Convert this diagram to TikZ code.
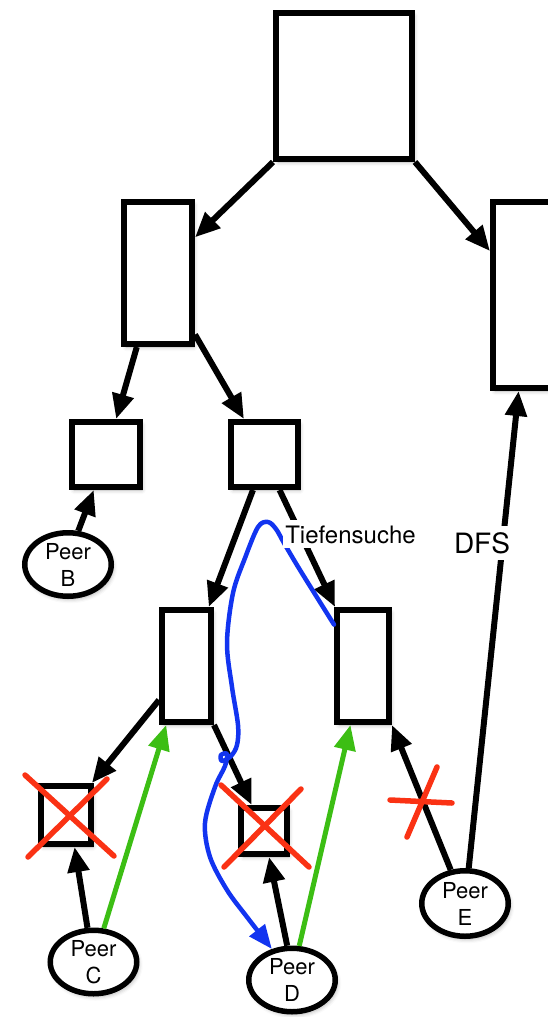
\documentclass[tikz,border=0pt]{standalone}
\usepackage{fontspec}
\setmainfont{TeX Gyre Heros}
\usetikzlibrary{arrows.meta,shapes.geometric,shadows.blur}

\definecolor{searchblue}{RGB}{18,52,240}
\definecolor{okgreen}{RGB}{60,190,20}
\definecolor{failred}{RGB}{250,50,20}

\tikzset{
  softshadow/.style={blur shadow={shadow xshift=2pt, shadow yshift=-3pt,
      shadow blur radius=4pt, shadow opacity=30}},
  box/.style={draw=black, line width=6pt, fill=white, inner sep=0pt, softshadow},
  peer/.style={ellipse, draw=black, line width=5.5pt, fill=white, inner sep=0pt,
      minimum width=86.5pt, minimum height=63.5pt, align=center,
      font=\fontsize{22}{27}\selectfont, softshadow},
  tip/.style={-{Triangle[length=25pt,width=21pt]}},
  link/.style={tip, draw=black, line width=6pt},
  ok/.style={tip, draw=okgreen, line width=5pt},
  searchpath/.style={-{Triangle[length=24pt,width=19pt]}, draw=searchblue,
      line width=4.5pt, line cap=round, line join=round},
  cross/.style={draw=failred, line width=5.5pt, line cap=round},
  tag/.style={fill=white, inner xsep=2pt, text=black},
}

\begin{document}
\begin{tikzpicture}[x=1pt, y=-1pt]
  \useasboundingbox (0,0) rectangle (548,1017);
  \clip (0,0) rectangle (548,1017);

  % tree of boxes
  \node[box, minimum width=136pt, minimum height=146pt] (root) at (344,86) {};
  \node[box, minimum width=68pt,  minimum height=142pt] (L1)   at (158,273) {};
  \node[box, minimum width=68pt,  minimum height=186pt] (R1)   at (527,295) {};
  \node[box, minimum width=68pt,  minimum height=65pt]  (L2a)  at (106,454.5) {};
  \node[box, minimum width=67pt,  minimum height=65pt]  (L2b)  at (264.5,454.5) {};
  \node[box, minimum width=49pt,  minimum height=112pt] (L3a)  at (186.5,666) {};
  \node[box, minimum width=52pt,  minimum height=112pt] (L3b)  at (363,666) {};
  \node[box, minimum width=50pt,  minimum height=58pt]  (L4a)  at (66,815) {};
  \node[box, minimum width=46pt,  minimum height=46pt]  (L4b)  at (264,831) {};

  % peers
  \node[peer] (B) at (68,564.5)  {Peer\\B};
  \node[peer] (C) at (93.5,962)  {Peer\\C};
  \node[peer] (D) at (292,980)   {Peer\\D};
  \node[peer, minimum height=65.5pt] (E) at (465,903.5) {Peer\\E};

  % tree edges
  \draw[link] (root.south west) -- (L1);
  \draw[link] (root.south east) -- (R1);
  \draw[link] (L1.-106) -- (L2a);
  \draw[link] (L1.-59) -- (L2b);
  \draw[link] (L2b.-108) -- (L3a);
  \draw[link] (L2b.-67) -- (L3b);
  \draw[link] (L3a.-129) -- (L4a);
  \draw[link] (L3a.south east) -- (L4b);

  % peers pointing into the tree
  \draw[link] (B.73) -- (L2a.-109);
  \draw[link] (C.100) -- (L4a.-75);
  \draw[ok]   (C.73) -- (L3a.-109);
  \draw[link] (D.98) -- (L4b.-79);
  \draw[ok]   (D.78) -- (L3b.-102);
  \draw[link] (E.113) -- (L3b.south east);
  \draw[link] (E.84) -- (R1.-95);

  % depth-first search path
  \draw[searchpath] plot[smooth, tension=0.55] coordinates {
    (L3b.125) (300,570) (284,543) (276,529) (268,522) (258,527)
    (245,558) (233,593) (227,643) (232,687) (238,725) (237,745)
    (231,756) (222,761) (221,755) (227,754) (225,766) (215,787)
    (205,823) (210,857) (227,890) (247,917) (D.123)};

  % labels
  \node[tag, anchor=base, inner ysep=5pt, font=\fontsize{24}{27}\selectfont]
    (tiefe) at (350.5,543) {Tiefensuche};
  \node[tag, inner ysep=6pt, font=\fontsize{28}{31}\selectfont]
    (dfs) at (482,543) {DFS};

  % failed boxes and the broken link
  \draw[cross] ([shift={(-41,-40)}]L4a.center) -- ([shift={(48,41)}]L4a.center);
  \draw[cross] ([shift={(-38,42)}]L4a.center) -- ([shift={(41,-36)}]L4a.center);
  \draw[cross] ([shift={(-43,-46)}]L4b.center) -- ([shift={(45,36)}]L4b.center);
  \draw[cross] ([shift={(-40,36)}]L4b.center) -- ([shift={(37,-42)}]L4b.center);
  \coordinate (cutE) at (421,801);
  \draw[cross] ([shift={(-31,-1)}]cutE) -- ([shift={(31,2)}]cutE);
  \draw[cross] ([shift={(16,-34)}]cutE) -- ([shift={(-14,36)}]cutE);
\end{tikzpicture}
\end{document}
